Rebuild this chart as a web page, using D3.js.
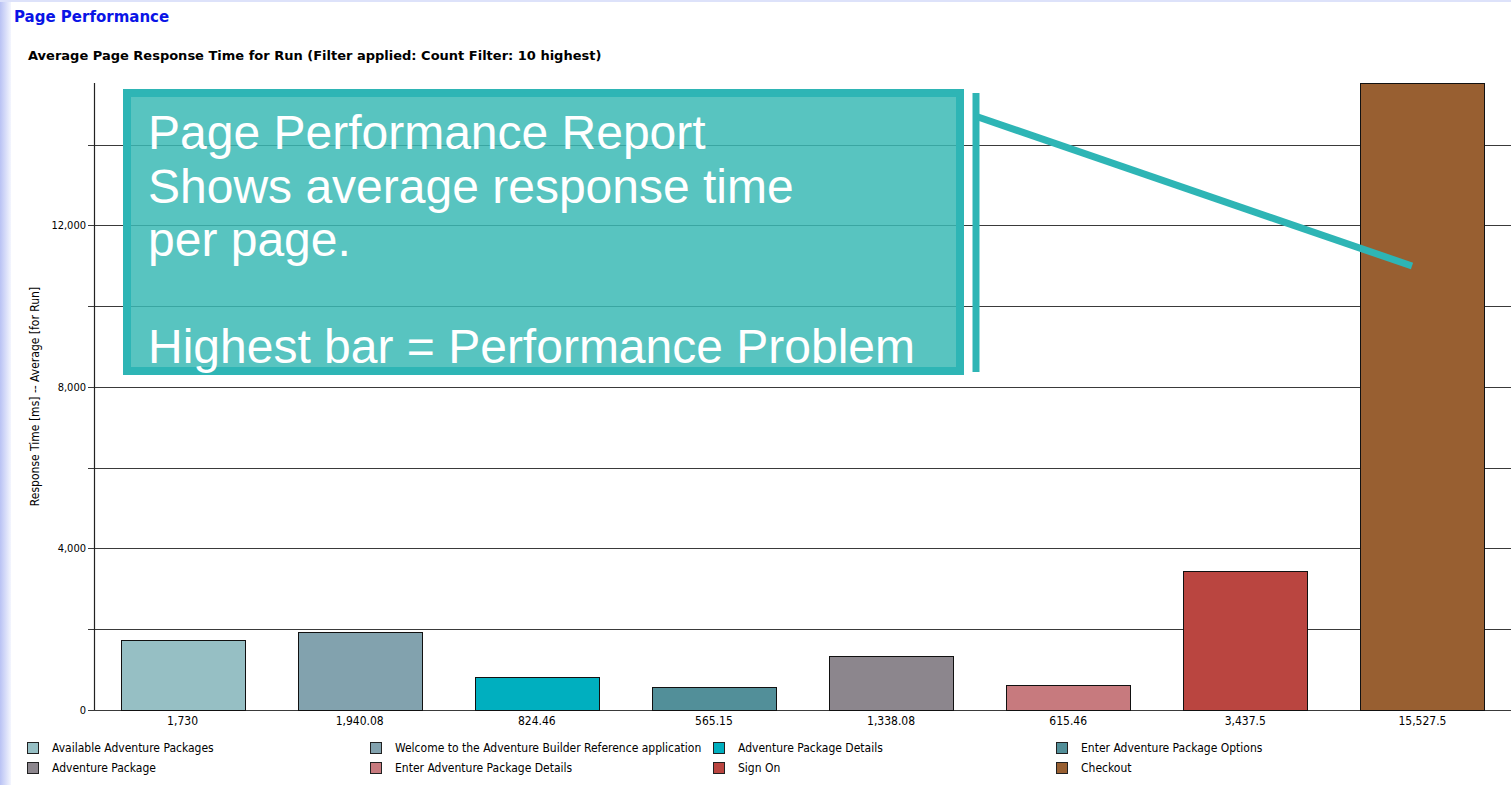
<!DOCTYPE html>
<html>
<head>
<meta charset="utf-8">
<script src="https://cdn.jsdelivr.net/npm/d3@7"></script>
<style>
    body { margin: 0; background: #ffffff; }
    .small { font-family: "DejaVu Sans Condensed", "Liberation Sans", sans-serif; font-size: 12px; fill: #000; }
    .note { font-family: "Liberation Sans", Arial, sans-serif; font-size: 48px; fill: #ffffff; }
</style>
</head>
<body>
<div id="root"></div>
<script>
// ---------------------------- DATA ----------------------------
const pages = [
    "Available Adventure Packages",
    "Welcome to the Adventure Builder Reference application",
    "Adventure Package Details",
    "Enter Adventure Package Options",
    "Adventure Package",
    "Enter Adventure Package Details",
    "Sign On",
    "Checkout"
];
const responseTimes = [1730, 1940.08, 824.46, 565.15, 1338.08, 615.46, 3437.5, 15527.5];
const barColours = ["#96bfc4", "#82a2ae", "#00afbf", "#528f99", "#8c868d", "#c77a7e", "#ba4540", "#985f31"];
const gridTicks = [0, 2000, 4000, 6000, 8000, 10000, 12000, 14000];
const labelTicks = [0, 4000, 8000, 12000];
const noteLines = ["Page Performance Report", "Shows average response time", "per page.", "", "Highest bar = Performance Problem"];

const width = 1511;
const height = 785;
const margin = { left: 94, right: 0, top: 83, bottom: 75 };

const svg = d3.select("#root")
    .append("svg")
    .attr("width", width)
    .attr("height", height);

// Lavender edge of the report page
const defs = svg.append("defs");
const grad = defs.append("linearGradient").attr("id", "edge").attr("x1", 0).attr("x2", 1);
grad.append("stop").attr("offset", 0).attr("stop-color", "#b9c2f4");
grad.append("stop").attr("offset", 1).attr("stop-color", "#f4f6fe");
svg.append("rect").attr("x", 0).attr("y", 0).attr("width", 11).attr("height", height).attr("fill", "url(#edge)");
svg.append("rect").attr("x", 0).attr("y", 0).attr("width", width).attr("height", 2).attr("fill", "#dde2fa");

// Titles
svg.append("text")
    .attr("x", 14).attr("y", 22)
    .style("font-family", "\"DejaVu Sans\", sans-serif")
    .style("font-size", "15px").style("font-weight", "bold")
    .attr("fill", "#0a14e6")
    .text("Page Performance");
svg.append("text")
    .attr("x", 28).attr("y", 60)
    .style("font-family", "\"DejaVu Sans\", sans-serif")
    .style("font-size", "13px").style("font-weight", "bold")
    .attr("fill", "#000")
    .text("Average Page Response Time for Run (Filter applied: Count Filter: 10 highest)");

// ---------------------------- SCALES ----------------------------
const x = d3.scaleBand()
    .domain(pages)
    .range([margin.left, width - margin.right])
    .paddingInner(0.3)
    .paddingOuter(0.15);
const y = d3.scaleLinear()
    .domain([0, d3.max(responseTimes)])
    .range([height - margin.bottom, margin.top]);

// Gridlines (with ticks out to the left of the axis)
svg.append("g")
    .selectAll("line")
    .data(gridTicks)
    .enter()
    .append("line")
    .attr("x1", margin.left - 6)
    .attr("x2", width)
    .attr("y1", d => Math.round(y(d)) + 0.5)
    .attr("y2", d => Math.round(y(d)) + 0.5)
    .attr("stroke", "#3a3a3a")
    .attr("stroke-width", 1.2);

// Y axis
svg.append("line")
    .attr("x1", margin.left + 0.5).attr("x2", margin.left + 0.5)
    .attr("y1", margin.top).attr("y2", y(0))
    .attr("stroke", "#222").attr("stroke-width", 1.2);
svg.append("g")
    .selectAll("text")
    .data(labelTicks)
    .enter()
    .append("text")
    .attr("class", "small")
    .style("font-size", "11px")
    .attr("x", 86)
    .attr("y", d => y(d) + 4)
    .attr("text-anchor", "end")
    .text(d => d3.format(",")(d));
svg.append("text")
    .attr("class", "small")
    .attr("transform", "translate(39," + (y(0) + margin.top) / 2 + ") rotate(-90)")
    .attr("text-anchor", "middle")
    .text("Response Time [ms] -- Average [for Run]");

// Bars
svg.append("g")
    .selectAll("rect")
    .data(responseTimes)
    .enter()
    .append("rect")
    .attr("x", (d, i) => Math.round(x(pages[i])) + 0.5)
    .attr("y", d => Math.round(y(d)) + 0.5)
    .attr("width", Math.round(x.bandwidth()))
    .attr("height", d => Math.round(y(0)) - Math.round(y(d)))
    .attr("fill", (d, i) => barColours[i])
    .attr("stroke", "#111")
    .attr("stroke-width", 1);

// Bar value labels
svg.append("g")
    .selectAll("text")
    .data(responseTimes)
    .enter()
    .append("text")
    .attr("class", "small")
    .attr("x", (d, i) => x(pages[i]) + x.bandwidth() / 2)
    .attr("y", y(0) + 15)
    .attr("text-anchor", "middle")
    .text(d => d3.format(",")(d));

// Legend
const legend = svg.append("g")
    .selectAll("g")
    .data(pages)
    .enter()
    .append("g")
    .attr("transform", (d, i) => "translate(" + (27 + (i % 4) * 343) + "," + (742 + Math.floor(i / 4) * 20) + ")");
legend.append("rect")
    .attr("x", 0.5).attr("y", 0.5)
    .attr("width", 11).attr("height", 11)
    .attr("fill", (d, i) => barColours[i])
    .attr("stroke", "#222");
legend.append("text")
    .attr("class", "small")
    .attr("x", 25)
    .attr("y", 10)
    .text(d => d);

// ---------------------------- ANNOTATION ----------------------------
const note = svg.append("g");
note.append("rect")
    .attr("x", 127).attr("y", 93)
    .attr("width", 833).attr("height", 278)
    .attr("fill", "#3bbab5")
    .attr("fill-opacity", 0.85)
    .attr("stroke", "#2eb5b5")
    .attr("stroke-width", 8);
note.append("line")
    .attr("x1", 976).attr("x2", 976)
    .attr("y1", 93).attr("y2", 372)
    .attr("stroke", "#2eb5b5").attr("stroke-width", 7);
note.append("line")
    .attr("x1", 978).attr("y1", 117)
    .attr("x2", 1412).attr("y2", 266)
    .attr("stroke", "#2eb5b5").attr("stroke-width", 7);
note.selectAll("text.note")
    .data(noteLines)
    .enter()
    .append("text")
    .attr("class", "note")
    .attr("x", 148)
    .attr("y", (d, i) => 149 + i * 53.5)
    .text(d => d);
</script>
</body>
</html>
